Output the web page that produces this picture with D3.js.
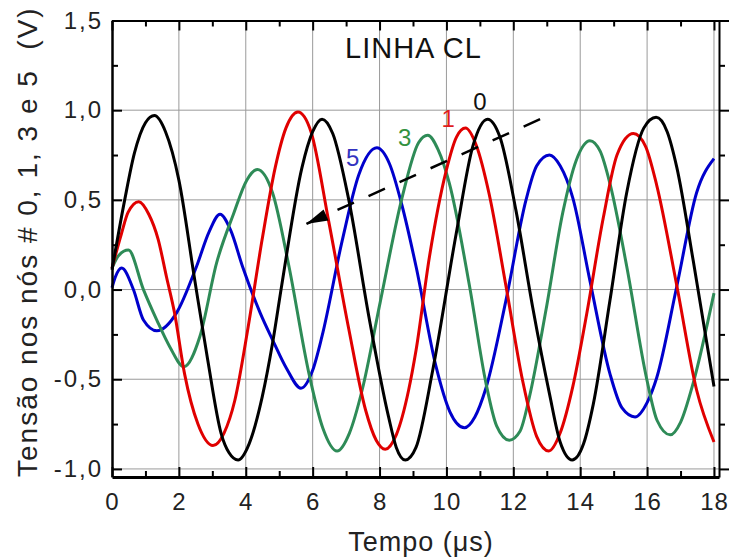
<!DOCTYPE html>
<html>
<head>
<meta charset="utf-8">
<script src="https://cdn.jsdelivr.net/npm/d3@7"></script>
<style>
  body { margin: 0; background: #fff; }
  svg { display: block; }
  text { font-family: Arial, "Liberation Sans", sans-serif; }
</style>
</head>
<body>
<svg id="chart" width="730" height="559"></svg>
<script>
// Voltage waveforms (V) at nodes 0, 1, 3 and 5 of line CL, time in microseconds
const t0 = [0, 0.38, 0.67, 1.0, 1.27, 1.6, 2.0, 2.46, 2.86, 3.26, 3.5, 3.77, 4.1, 4.49, 4.8, 5.08, 5.68, 6.0, 6.28, 6.6, 7.08, 7.68, 8.27, 8.5, 8.77, 9.09, 9.59, 10.29, 10.79, 11.23, 11.6, 12.08, 12.58, 13.08, 13.4, 13.76, 14.1, 14.39, 14.89, 15.39, 15.9, 16.27, 16.6, 16.89, 17.38, 18.0];
const v0 = [0.11, 0.50, 0.76, 0.93, 0.97, 0.88, 0.61, 0.07, -0.39, -0.80, -0.91, -0.95, -0.86, -0.60, -0.30, 0.03, 0.68, 0.88, 0.95, 0.87, 0.50, -0.15, -0.71, -0.88, -0.95, -0.88, -0.45, 0.31, 0.80, 0.95, 0.85, 0.44, -0.10, -0.58, -0.85, -0.95, -0.86, -0.64, -0.06, 0.54, 0.90, 0.96, 0.88, 0.68, 0.16, -0.54];

const t1 = [0, 0.28, 0.48, 0.8, 1.1, 1.38, 1.63, 1.87, 2.17, 2.57, 3.02, 3.35, 3.67, 4.07, 4.49, 4.88, 5.2, 5.56, 5.95, 6.48, 7.08, 7.58, 7.9, 8.17, 8.5, 8.87, 9.09, 9.49, 9.99, 10.3, 10.57, 10.9, 11.28, 11.78, 12.28, 12.7, 13.06, 13.4, 13.78, 14.19, 14.69, 15.1, 15.59, 15.95, 16.29, 16.89, 17.48, 18.0];
const v1 = [0.12, 0.31, 0.43, 0.49, 0.42, 0.28, 0.07, -0.13, -0.47, -0.75, -0.87, -0.80, -0.62, -0.21, 0.28, 0.68, 0.90, 0.99, 0.88, 0.38, -0.22, -0.67, -0.84, -0.89, -0.81, -0.56, -0.34, 0.18, 0.66, 0.85, 0.90, 0.80, 0.53, 0.02, -0.51, -0.82, -0.90, -0.80, -0.54, -0.14, 0.40, 0.75, 0.87, 0.80, 0.58, 0.02, -0.56, -0.85];

const t3 = [0, 0.2, 0.49, 0.94, 1.34, 1.73, 2.15, 2.63, 3.13, 3.63, 4.03, 4.35, 4.8, 5.28, 5.88, 6.3, 6.73, 7.1, 7.48, 8.02, 8.67, 9.17, 9.44, 9.75, 10.09, 10.69, 11.18, 11.5, 11.88, 12.2, 12.48, 12.98, 13.48, 13.88, 14.29, 14.6, 14.89, 15.39, 15.99, 16.3, 16.69, 17.0, 17.38, 18.0];
const v3 = [0.12, 0.19, 0.22, 0.0, -0.17, -0.32, -0.43, -0.26, 0.15, 0.42, 0.61, 0.67, 0.54, 0.14, -0.46, -0.77, -0.90, -0.80, -0.56, -0.07, 0.51, 0.82, 0.86, 0.78, 0.59, 0.02, -0.52, -0.76, -0.84, -0.79, -0.60, -0.11, 0.43, 0.72, 0.83, 0.77, 0.59, 0.13, -0.50, -0.73, -0.81, -0.74, -0.52, -0.02];

const t5 = [0, 0.1, 0.29, 0.64, 0.94, 1.34, 1.93, 2.53, 2.9, 3.23, 3.55, 3.9, 4.43, 4.8, 5.22, 5.65, 6.0, 6.28, 6.88, 7.38, 7.92, 8.3, 8.67, 9.09, 9.69, 10.1, 10.54, 10.85, 11.18, 11.78, 12.38, 12.7, 13.08, 13.4, 13.78, 14.29, 14.89, 15.25, 15.64, 16.0, 16.29, 16.89, 17.48, 18.0];
const v5 = [0.01, 0.07, 0.12, 0.0, -0.17, -0.23, -0.13, 0.13, 0.32, 0.42, 0.33, 0.13, -0.13, -0.28, -0.44, -0.55, -0.45, -0.26, 0.27, 0.64, 0.79, 0.70, 0.47, 0.13, -0.43, -0.68, -0.77, -0.71, -0.55, -0.06, 0.50, 0.69, 0.75, 0.69, 0.51, 0.05, -0.47, -0.66, -0.71, -0.63, -0.49, 0.02, 0.54, 0.73];

const seriesNames = ["0", "1", "3", "5"];
const seriesColors = ["#000000", "#e00000", "#2e8b57", "#0000cc"];
const labelColors = ["#111111", "#e01c1c", "#33923f", "#3333c0"];
// label anchor points (time, voltage) for the node numbers
const labelT = [11.0, 10.05, 8.75, 7.2];
const labelV = [1.0, 0.905, 0.8, 0.69];

const xMajor = [0, 2, 4, 6, 8, 10, 12, 14, 16, 18];
const xMinor = [1, 3, 5, 7, 9, 11, 13, 15, 17];
const yMajor = [-1.0, -0.5, 0.0, 0.5, 1.0, 1.5];
const yMinor = [-0.75, -0.25, 0.25, 0.75, 1.25];

const titleText = "LINHA CL";
const xTitle = "Tempo (\u03bcs)";
const yTitle = "Tens\u00e3o nos n\u00f3s # 0, 1, 3 e 5  (V)";

// dashed arrow (time, voltage): from the last node's peak back towards node 5
const arrowFrom = [12.8, 0.95];
const arrowTo = [5.8, 0.365];

const svg = d3.select("#chart");
const x = d3.scaleLinear().domain([0, 18.15]).range([112, 719]);
const y = d3.scaleLinear().domain([-1.045, 1.5]).range([477, 20.5]);

// grid
const grid = svg.append("g").attr("stroke", "#9a9a9a").attr("stroke-width", 1);
grid.selectAll("line.gx").data(xMajor.filter(d => d > 0)).join("line")
  .attr("x1", d => x(d)).attr("x2", d => x(d))
  .attr("y1", y(1.5)).attr("y2", y(-1.045));
grid.selectAll("line.gy").data(yMajor.filter(d => d < 1.5)).join("line")
  .attr("x1", x(0)).attr("x2", x(18.15))
  .attr("y1", d => y(d)).attr("y2", d => y(d));

// curves
const line = d3.line().curve(d3.curveMonotoneX).x(d => x(d[0])).y(d => y(d[1]));
const series = [[t0, v0], [t1, v1], [t3, v3], [t5, v5]];
// draw order: 5, 3, 1, 0 (black on top)
[3, 2, 1, 0].forEach(i => {
  const pts = series[i][0].map((t, k) => [t, series[i][1][k]]);
  svg.append("path").datum(pts)
    .attr("d", line)
    .attr("fill", "none")
    .attr("stroke", seriesColors[i])
    .attr("stroke-width", 3)
    .attr("stroke-linejoin", "round");
});

// axes
const fmt = d => d3.format(".1f")(d).replace(".", ",").replace("\u2212", "-");
const styleAxis = (g, w) => {
  g.select(".domain").attr("stroke", "#000").attr("stroke-width", w);
  g.selectAll(".tick line").attr("stroke", "#000").attr("stroke-width", 2);
};

svg.append("g").attr("transform", `translate(0,${y(-1.045)})`)
  .call(d3.axisBottom(x).tickValues(xMinor).tickSize(-6).tickSizeOuter(0).tickFormat(""))
  .call(g => g.select(".domain").remove())
  .call(g => g.selectAll(".tick line").attr("stroke", "#000").attr("stroke-width", 2));
svg.append("g").attr("transform", `translate(0,${y(-1.045)})`)
  .call(d3.axisBottom(x).tickValues(xMajor).tickSize(-10).tickSizeOuter(0).tickPadding(16).tickFormat(d3.format("d")))
  .call(g => styleAxis(g, 3))
  .call(g => g.selectAll("text").attr("font-size", 24).attr("letter-spacing", 1).attr("fill", "#222"));

svg.append("g").attr("transform", `translate(0,${y(1.5)})`)
  .call(d3.axisTop(x).tickValues(xMinor).tickSize(-6).tickSizeOuter(0).tickFormat(""))
  .call(g => g.select(".domain").remove())
  .call(g => g.selectAll(".tick line").attr("stroke", "#000").attr("stroke-width", 2));
svg.append("g").attr("transform", `translate(0,${y(1.5)})`)
  .call(d3.axisTop(x).tickValues(xMajor).tickSize(-10).tickSizeOuter(0).tickFormat(""))
  .call(g => styleAxis(g, 2));

svg.append("g").attr("transform", `translate(${x(0)},0)`)
  .call(d3.axisLeft(y).tickValues(yMinor).tickSize(-6).tickSizeOuter(0).tickFormat(""))
  .call(g => g.select(".domain").remove())
  .call(g => g.selectAll(".tick line").attr("stroke", "#000").attr("stroke-width", 2));
svg.append("g").attr("transform", `translate(${x(0)},0)`)
  .call(d3.axisLeft(y).tickValues(yMajor).tickSize(-10).tickSizeOuter(0).tickPadding(9).tickFormat(fmt))
  .call(g => styleAxis(g, 2.5))
  .call(g => g.selectAll("text").attr("font-size", 24).attr("letter-spacing", 2).attr("fill", "#222"));

svg.append("g").attr("transform", `translate(${x(18.15)},0)`)
  .call(d3.axisRight(y).tickValues(yMinor).tickSize(6).tickSizeOuter(0).tickFormat(""))
  .call(g => g.select(".domain").remove())
  .call(g => g.selectAll(".tick line").attr("stroke", "#000").attr("stroke-width", 2));
svg.append("g").attr("transform", `translate(${x(18.15)},0)`)
  .call(d3.axisRight(y).tickValues(yMajor).tickSize(10).tickSizeOuter(0).tickFormat(""))
  .call(g => styleAxis(g, 2));

// titles
svg.append("text").attr("x", 421).attr("y", 551).attr("text-anchor", "middle")
  .attr("font-size", 27).attr("letter-spacing", 1).attr("fill", "#222").text(xTitle);
svg.append("text").attr("transform", "translate(37,477) rotate(-90)")
  .attr("text-anchor", "start").attr("font-size", 28).attr("letter-spacing", 2).attr("fill", "#222")
  .style("white-space", "pre").text(yTitle);
svg.append("text").attr("x", 345).attr("y", 58)
  .attr("font-size", 29).attr("letter-spacing", 1).attr("fill", "#111").text(titleText);

// node labels
svg.selectAll("text.node").data(seriesNames).join("text")
  .attr("class", "node")
  .attr("x", (d, i) => x(labelT[i])).attr("y", (d, i) => y(labelV[i]))
  .attr("text-anchor", "middle").attr("font-size", 24)
  .attr("fill", (d, i) => labelColors[i]).text(d => d);

// dashed arrow
const defs = svg.append("defs");
defs.append("marker").attr("id", "head")
  .attr("viewBox", "-24 -7 26 14").attr("refX", 0).attr("refY", 0)
  .attr("markerWidth", 26).attr("markerHeight", 14)
  .attr("markerUnits", "userSpaceOnUse").attr("orient", "auto")
  .append("path").attr("d", "M0,0 L-22,-6 L-22,6 Z").attr("fill", "#000");
svg.append("line")
  .attr("x1", x(arrowFrom[0])).attr("y1", y(arrowFrom[1]))
  .attr("x2", x(arrowTo[0])).attr("y2", y(arrowTo[1]))
  .attr("stroke", "#000").attr("stroke-width", 2.5)
  .attr("stroke-dasharray", "18,16")
  .attr("marker-end", "url(#head)");
</script>
</body>
</html>
